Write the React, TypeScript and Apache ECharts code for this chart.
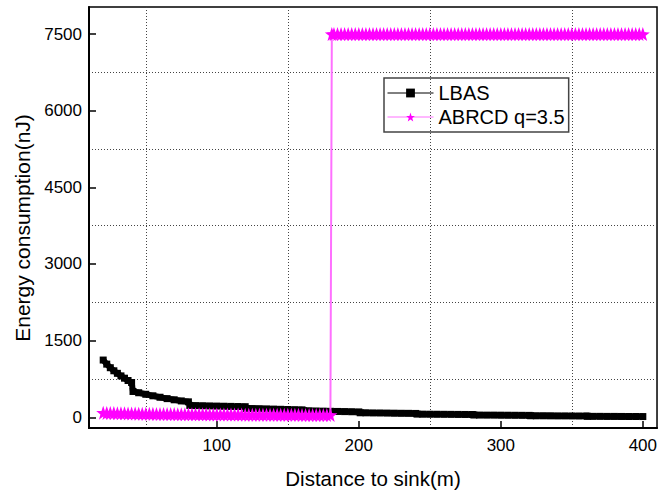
import React, { useEffect, useRef } from "react";
import * as echarts from "echarts";

// LBAS (black squares): distance (m) and energy (nJ)
const lbasX = [20, 22.5, 25, 27.5, 30, 32.5, 35, 37.5, 40,
  41, 45, 50, 55, 60, 65, 70, 75, 80,
  81, 85, 90, 95, 100, 105, 110, 115, 120,
  121, 125, 130, 135, 140, 145, 150, 155, 160,
  161, 165, 170, 175, 180, 185, 190, 195, 200,
  201, 205, 210, 215, 220, 225, 230, 235, 240,
  241, 245, 250, 255, 260, 265, 270, 275, 280,
  281, 285, 290, 295, 300, 305, 310, 315, 320,
  321, 325, 330, 335, 340, 345, 350, 355, 360,
  361, 365, 370, 375, 380, 385, 390, 395, 400];
const lbasY = [1120, 1040, 970, 910, 860, 810, 765, 720, 680,
  505, 480, 450, 420, 392, 365, 342, 320, 302,
  232, 228, 225, 222, 219, 216, 213, 210, 207,
  172, 170, 167, 164, 160, 156, 152, 148, 145,
  128, 126, 123, 120, 117, 114, 111, 108, 105,
  88, 87, 85, 84, 82, 80, 78, 77, 75,
  62, 61, 60, 59, 58, 57, 56, 55, 54,
  44, 43, 42, 42, 41, 40, 39, 38, 37,
  30, 29, 29, 28, 27, 27, 26, 25, 25,
  19, 18, 18, 17, 17, 16, 15, 15, 14];

// ABRCD q=3.5 (magenta stars), sampled every 2.5 m
const abrcdX = [
  20, 22.5, 25, 27.5, 30, 32.5, 35, 37.5, 40, 42.5, 45, 47.5, 50, 52.5, 55, 57.5,
  60, 62.5, 65, 67.5, 70, 72.5, 75, 77.5, 80, 82.5, 85, 87.5, 90, 92.5, 95, 97.5,
  100, 102.5, 105, 107.5, 110, 112.5, 115, 117.5, 120, 122.5, 125, 127.5, 130, 132.5, 135, 137.5,
  140, 142.5, 145, 147.5, 150, 152.5, 155, 157.5, 160, 162.5, 165, 167.5, 170, 172.5, 175, 177.5, 180,
  181, 182.5, 185, 187.5, 190, 192.5, 195, 197.5, 200, 202.5, 205, 207.5, 210, 212.5, 215, 217.5,
  220, 222.5, 225, 227.5, 230, 232.5, 235, 237.5, 240, 242.5, 245, 247.5, 250, 252.5, 255, 257.5,
  260, 262.5, 265, 267.5, 270, 272.5, 275, 277.5, 280, 282.5, 285, 287.5, 290, 292.5, 295, 297.5,
  300, 302.5, 305, 307.5, 310, 312.5, 315, 317.5, 320, 322.5, 325, 327.5, 330, 332.5, 335, 337.5,
  340, 342.5, 345, 347.5, 350, 352.5, 355, 357.5, 360, 362.5, 365, 367.5, 370, 372.5, 375, 377.5,
  380, 382.5, 385, 387.5, 390, 392.5, 395, 397.5, 400];
const abrcdY = [
  88, 86, 84, 82, 80, 78, 77, 75, 74, 72, 71, 70, 69, 68, 67, 66,
  65, 64, 63, 63, 62, 61, 60, 60, 59, 59, 58, 58, 57, 57, 56, 56,
  55, 55, 54, 54, 53, 53, 52, 52, 51, 51, 50, 50, 50, 49, 49, 49,
  48, 48, 48, 48, 47, 47, 47, 47, 46, 46, 46, 46, 45, 45, 45, 45, 44,
  7500, 7500, 7500, 7500, 7500, 7500, 7500, 7500, 7500, 7500, 7500, 7500, 7500, 7500, 7500, 7500,
  7500, 7500, 7500, 7500, 7500, 7500, 7500, 7500, 7500, 7500, 7500, 7500, 7500, 7500, 7500, 7500,
  7500, 7500, 7500, 7500, 7500, 7500, 7500, 7500, 7500, 7500, 7500, 7500, 7500, 7500, 7500, 7500,
  7500, 7500, 7500, 7500, 7500, 7500, 7500, 7500, 7500, 7500, 7500, 7500, 7500, 7500, 7500, 7500,
  7500, 7500, 7500, 7500, 7500, 7500, 7500, 7500, 7500, 7500, 7500, 7500, 7500, 7500, 7500, 7500,
  7500, 7500, 7500, 7500, 7500, 7500, 7500, 7500, 7500];

const seriesNames = ["LBAS", "ABRCD q=3.5"];
const xAxisTitle = "Distance to sink(m)";
const yAxisTitle = "Energy consumption(nJ)";
const xTickValues = [100, 200, 300, 400];
const xGridValues = [50, 150, 250, 350];
const yTickValues = [0, 1500, 3000, 4500, 6000, 7500];
const yGridValues = [750, 2250, 3750, 5250, 6750];

const FONT = "'Liberation Sans', Arial, sans-serif";
const STAR =
  "path://M0,-10L2.35,-3.24L9.51,-3.09L3.8,1.24L5.88,8.09L0,4L-5.88,8.09L-3.8,1.24L-9.51,-3.09L-2.35,-3.24Z";

export default function App() {
  const ref = useRef<HTMLDivElement>(null);
  useEffect(() => {
    if (!ref.current) return;
    const chart = echarts.init(ref.current, undefined, { renderer: "svg" });
    const X_MIN = 10, X_MAX = 410, Y_MIN = -210, Y_MAX = 8030;
    const gridLine = { show: true, lineStyle: { color: "#444", type: [1, 2] as any, width: 1 } };
    chart.setOption({
      animation: false,
      backgroundColor: "#fff",
      textStyle: { fontFamily: FONT },
      grid: {
        left: 89, top: 7, width: 573, height: 421,
        show: true, borderColor: "#000", borderWidth: 1.5, containLabel: false,
      },
      graphic: [
        {
          type: "text", x: 22, y: 228, rotation: Math.PI / 2,
          style: { text: yAxisTitle, fontSize: 21, fontFamily: FONT, fill: "#000", align: "center", verticalAlign: "middle" },
        },
      ],
      legend: {
        orient: "vertical",
        left: 384, top: 78,
        padding: [5, 4, 5, 3],
        itemWidth: 46, itemHeight: 11, itemGap: 4,
        borderColor: "#444", borderWidth: 1.5,
        selectedMode: false,
        textStyle: { fontSize: 20, color: "#000", fontFamily: FONT },
        lineStyle: { width: 1 },
        data: seriesNames,
      },
      xAxis: [
        {
          type: "value", min: X_MIN, max: X_MAX, position: "bottom",
          name: xAxisTitle, nameLocation: "middle", nameGap: 40,
          nameTextStyle: { fontSize: 20.5, color: "#000", fontFamily: FONT },
          axisLine: { show: true, onZero: false, lineStyle: { color: "#000", width: 2 } },
          axisTick: { show: true, inside: true, length: 7, lineStyle: { color: "#000", width: 1.5 }, customValues: xTickValues },
          axisLabel: { show: true, fontSize: 17, color: "#000", margin: 9, fontFamily: FONT, customValues: xTickValues, formatter: (v: number) => String(v) },
          splitLine: { show: false },
        },
        {
          type: "value", min: X_MIN, max: X_MAX, position: "bottom",
          axisLine: { show: false },
          axisTick: { show: false, customValues: xGridValues },
          axisLabel: { show: false },
          splitLine: gridLine,
        },
      ],
      yAxis: [
        {
          type: "value", min: Y_MIN, max: Y_MAX, position: "left",
          axisLine: { show: true, onZero: false, lineStyle: { color: "#000", width: 2 } },
          axisTick: { show: true, inside: true, length: 7, lineStyle: { color: "#000", width: 1.5 }, customValues: yTickValues },
          axisLabel: { show: true, fontSize: 17, color: "#000", margin: 7, fontFamily: FONT, customValues: yTickValues, formatter: (v: number) => String(v) },
          splitLine: { show: false },
        },
        {
          type: "value", min: Y_MIN, max: Y_MAX, position: "left",
          axisLine: { show: false },
          axisTick: { show: false, customValues: yGridValues },
          axisLabel: { show: false },
          splitLine: gridLine,
        },
      ],
      series: [
        {
          name: seriesNames[0], type: "line", xAxisIndex: 0, yAxisIndex: 0,
          data: lbasX.map((x, i) => [x, lbasY[i]]),
          symbol: "rect", symbolSize: 7, showSymbol: true,
          itemStyle: { color: "#000" },
          lineStyle: { color: "#000", width: 6 },
          z: 3,
        },
        {
          name: seriesNames[1], type: "line", xAxisIndex: 0, yAxisIndex: 0,
          data: abrcdX.map((x, i) => [x, abrcdY[i]]),
          symbol: STAR, symbolSize: 14, showSymbol: true,
          itemStyle: { color: "#ff00ff" },
          lineStyle: { color: "#ff70ff", width: 2 },
          z: 4,
        },
      ],
    });
    return () => chart.dispose();
  }, []);
  return <div ref={ref} style={{ position: "fixed", left: 0, top: 0, width: 660, height: 496 }} />;
}
